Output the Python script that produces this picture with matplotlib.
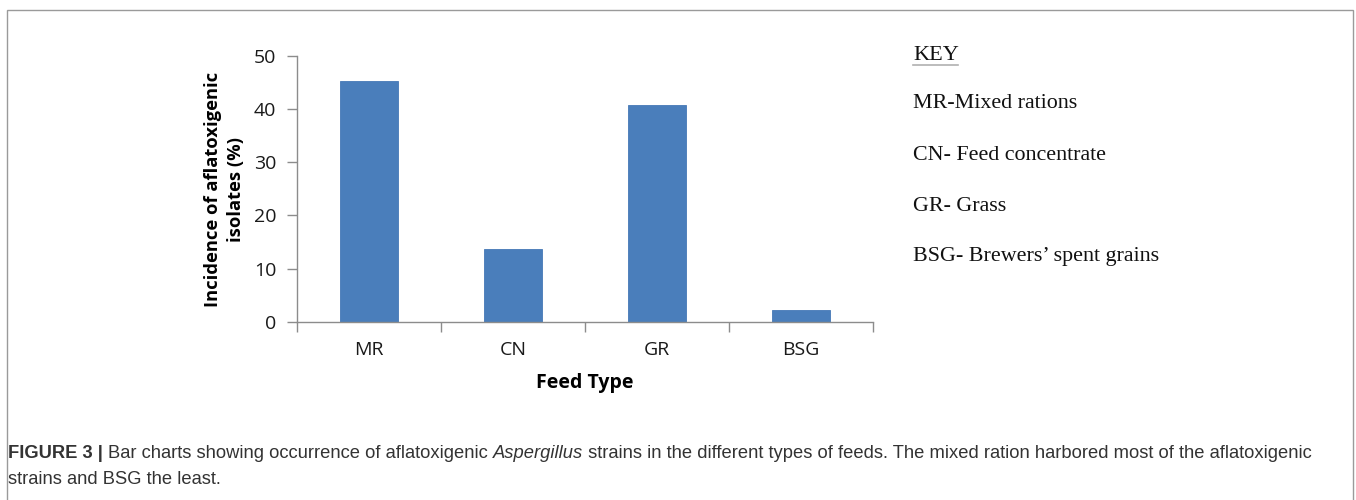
import matplotlib
matplotlib.use("Agg")
import matplotlib.pyplot as plt
from matplotlib.patches import Rectangle
from matplotlib.ticker import FixedLocator, NullFormatter

categories = ["MR", "CN", "GR", "BSG"]
values = [45.3, 13.6, 40.8, 2.2]
yticks = [0, 10, 20, 30, 40, 50]
key_title = "KEY"
key_lines = ["MR-Mixed rations", "CN- Feed concentrate", "GR- Grass",
             "BSG- Brewers\u2019 spent grains"]
ylabel = "Incidence of aflatoxigenic\nisolates (%)"
xlabel = "Feed Type"

W, H = 1356, 500
fig = plt.figure(figsize=(W / 100, H / 100), dpi=100)

# outer border
fig.patches.append(Rectangle((7 / W, -0.01), (1353 - 7) / W, 1 - 10 / H + 0.01,
                             transform=fig.transFigure, fill=False,
                             edgecolor="#9a9a9a", linewidth=1.0))

ax = fig.add_axes([297 / W, 1 - 321.7 / H, (872.7 - 297) / W, (321.7 - 55.7) / H])
x = list(range(len(categories)))
ax.bar(x, values, width=0.4, color="#4a7ebb", edgecolor="#4578b6", linewidth=0.6)
ax.set_xlim(-0.5, len(categories) - 0.5)
ax.set_ylim(0, 50)
ax.set_yticks(yticks)
ax.set_xticks(x)
ax.set_xticklabels(categories)
ax.xaxis.set_minor_locator(FixedLocator([i - 0.5 for i in range(len(categories) + 1)]))
ax.xaxis.set_minor_formatter(NullFormatter())

for s in ["top", "right"]:
    ax.spines[s].set_visible(False)
for s in ["left", "bottom"]:
    ax.spines[s].set_color("#8c8c8c")
    ax.spines[s].set_linewidth(1.0)

tickfont = "Open Sans"
ax.tick_params(axis="y", direction="out", length=7, width=1, color="#8c8c8c",
               labelsize=14, pad=8, labelcolor="#1a1a1a")
ax.tick_params(axis="x", which="major", length=0, labelsize=14, pad=14,
               labelcolor="#1a1a1a")
ax.tick_params(axis="x", which="minor", direction="out", length=7, width=1,
               color="#8c8c8c")
for lab in ax.get_xticklabels() + ax.get_yticklabels():
    lab.set_fontfamily(tickfont)

ax.set_xlabel(xlabel, fontsize=14, fontweight="bold", family=tickfont, labelpad=10)
fig.text(224.5 / W, 1 - 189 / H, ylabel, rotation=90, ha="center", va="center",
         fontsize=13.2, fontweight="bold", family=tickfont, linespacing=1.3,
         multialignment="center")

# key
serif = "Liberation Serif"
fig.text(913 / W, 1 - 55 / H, key_title, fontsize=16, family=serif, va="center",
         color="#111111")
fig.lines.append(plt.Line2D([913 / W, 958 / W], [1 - 65 / H, 1 - 65 / H],
                            transform=fig.transFigure, color="#b0b0b0", lw=1.2))
for ypix, line in zip([103, 155, 207, 257], key_lines):
    fig.text(913 / W, 1 - ypix / H, line, fontsize=15.8, family=serif, va="center",
             color="#111111")

# caption
capfont = ["Liberation Sans", "DejaVu Sans"]
cap_y1 = 1 - 453 / H
cap_y2 = 1 - 480 / H
cfs = 13.2
t1 = fig.text(8 / W, cap_y1, "FIGURE 3 | ", fontsize=cfs, fontweight="bold",
              family=capfont, va="center", color="#333333")
fig.canvas.draw()
r = fig.canvas.get_renderer()
bb = t1.get_window_extent(r)
xpos = bb.x1 / W
parts = [("Bar charts showing occurrence of aflatoxigenic ", "normal"),
         ("Aspergillus", "italic"),
         (" strains in the different types of feeds. The mixed ration harbored most of the aflatoxigenic", "normal")]
for txt, style in parts:
    t = fig.text(xpos, cap_y1, txt, fontsize=cfs, style=style, family=capfont,
                 va="center", color="#333333")
    xpos = t.get_window_extent(r).x1 / W
fig.text(8 / W, cap_y2, "strains and BSG the least.", fontsize=cfs,
         family=capfont, va="center", color="#333333")

fig.savefig("out.png", dpi=100)
